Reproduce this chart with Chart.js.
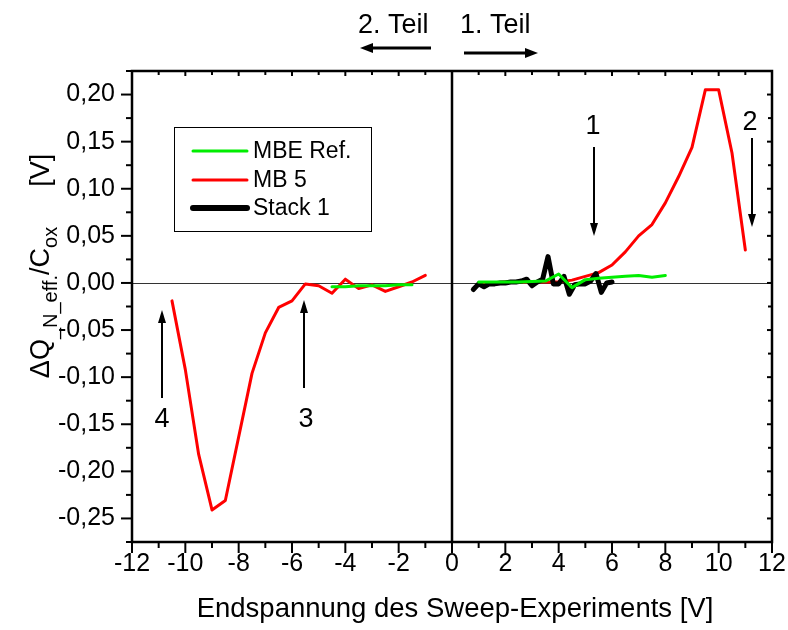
<!DOCTYPE html>
<html><head><meta charset="utf-8">
<script src="https://cdn.jsdelivr.net/npm/chart.js@4.4.1/dist/chart.umd.min.js"></script>
<style>html,body{margin:0;padding:0;background:#fff;}#wrap{width:788px;height:630px;}</style>
</head><body><div id="wrap"><canvas id="c" width="788" height="630"></canvas></div>
<script>
// ---- data ----
const xTicks = [-12,-10,-8,-6,-4,-2,0,2,4,6,8,10,12];
const yTicks = [-0.25,-0.20,-0.15,-0.10,-0.05,0.00,0.05,0.10,0.15,0.20];

const mb5LeftX = [-10.5,-10,-9.5,-9,-8.5,-7.5,-7,-6.5,-6,-5.5,-5,-4.5,-4,-3.5,-3,-2.5,-2,-1.5,-1];
const mb5LeftY = [-0.019,-0.092,-0.182,-0.241,-0.231,-0.096,-0.053,-0.026,-0.019,-0.001,-0.003,-0.011,0.004,-0.006,-0.002,-0.009,-0.004,0.001,0.008];
const mb5RightX = [1,1.5,2,2.5,3,3.5,4,4.5,5,5.5,6,6.5,7,7.5,8,8.5,9,9.5,10,10.5,11];
const mb5RightY = [0.000,0.000,0.001,0.001,0.001,0.001,0.001,0.003,0.007,0.011,0.019,0.033,0.050,0.062,0.085,0.113,0.144,0.205,0.205,0.138,0.035];

const mbeLeftX = [-4.5,-4,-3.5,-3,-2.5,-2,-1.5];
const mbeLeftY = [-0.004,-0.004,-0.003,-0.003,-0.003,-0.002,-0.002];
const mbeRightX = [1,1.5,2,2.5,3,3.5,4,4.5,5,5.5,6,6.5,7,7.5,8];
const mbeRightY = [0.001,0.001,0.001,0.001,0.0015,0.002,0.0095,-0.005,0.0035,0.005,0.006,0.007,0.008,0.006,0.008];

const stackX = [0.8,1.0,1.2,1.4,1.6,1.8,2.0,2.2,2.4,2.6,2.8,3.0,3.2,3.4,3.6,3.8,4.0,4.2,4.4,4.6,4.8,5.0,5.2,5.4,5.6,5.8,6.0];
const stackY = [-0.007,-0.001,-0.004,-0.001,-0.001,0.000,0.000,0.001,0.001,0.002,0.004,-0.003,0.001,0.004,0.028,-0.001,-0.001,0.007,-0.012,-0.002,-0.001,-0.001,0.002,0.010,-0.010,0.000,0.001];

const seriesNames = ['MBE Ref.','MB 5','Stack 1'];
const seriesColors = ['#00ee00','#ff0000','#000000'];

// ---- helpers ----
const FONT = "'Liberation Sans', Arial, sans-serif";
const pts = (xs, ys) => xs.map((x,i)=>({x:x, y:ys[i]}));
const fmtY = v => { const a = Math.abs(v) < 1e-9 ? 0 : v; return a.toFixed(2).replace('.', ','); };

function arrow(ctx, x1, y1, x2, y2, lw, hl, hw){
  const ang = Math.atan2(y2-y1, x2-x1);
  const bx = x2 - hl*Math.cos(ang), by = y2 - hl*Math.sin(ang);
  ctx.save();
  ctx.strokeStyle = '#000'; ctx.fillStyle = '#000'; ctx.lineWidth = lw; ctx.lineCap='butt';
  ctx.beginPath(); ctx.moveTo(x1,y1); ctx.lineTo(bx,by); ctx.stroke();
  ctx.beginPath();
  ctx.moveTo(x2,y2);
  ctx.lineTo(bx + hw/2*Math.sin(ang), by - hw/2*Math.cos(ang));
  ctx.lineTo(bx - hw/2*Math.sin(ang), by + hw/2*Math.cos(ang));
  ctx.closePath(); ctx.fill();
  ctx.restore();
}

const decor = {
  id: 'decor',
  beforeDatasetsDraw(chart){
    const {ctx, chartArea:a, scales:{x, y}} = chart;
    ctx.save();
    ctx.strokeStyle = '#333'; ctx.lineWidth = 1;
    const y0 = Math.round(y.getPixelForValue(0)) + 0.5;
    ctx.beginPath(); ctx.moveTo(a.left, y0); ctx.lineTo(a.right, y0); ctx.stroke();
    const x0 = x.getPixelForValue(0);
    ctx.strokeStyle = '#000'; ctx.lineWidth = 2.5;
    ctx.beginPath(); ctx.moveTo(x0, a.top); ctx.lineTo(x0, a.bottom); ctx.stroke();
    ctx.restore();
  },
  afterDraw(chart){
    const {ctx, chartArea:a, scales:{x, y}} = chart;
    ctx.save();
    ctx.strokeStyle = '#000';
    ctx.lineWidth = 2;
    for (let v = -12; v <= 12; v++) {
      const px = x.getPixelForValue(v);
      const major = v % 2 === 0;
      ctx.beginPath(); ctx.moveTo(px, a.bottom); ctx.lineTo(px, a.bottom + (major ? 11 : 6)); ctx.stroke();
      ctx.beginPath(); ctx.moveTo(px, a.top); ctx.lineTo(px, a.top + (major ? 5 : 4)); ctx.stroke();
    }
    for (let k = -11; k <= 9; k++) {
      const v = k * 0.025;
      const py = y.getPixelForValue(v);
      const major = k % 2 === 0;
      ctx.beginPath(); ctx.moveTo(a.left, py); ctx.lineTo(a.left - (major ? 11 : 6), py); ctx.stroke();
      ctx.beginPath(); ctx.moveTo(a.right, py); ctx.lineTo(a.right - (major ? 5 : 4), py); ctx.stroke();
    }
    ctx.lineWidth = 2.5;
    ctx.strokeRect(a.left, a.top, a.right - a.left, a.bottom - a.top);

    // legend
    ctx.lineWidth = 1;
    ctx.strokeRect(174.5, 127.5, 197, 104);
    const ly = [151, 180, 208];
    const lw = [3, 3, 6];
    ctx.font = '23px ' + FONT; ctx.fillStyle = '#000'; ctx.textBaseline = 'middle'; ctx.textAlign = 'left';
    for (let i = 0; i < 3; i++) {
      ctx.strokeStyle = seriesColors[i]; ctx.lineWidth = lw[i]; ctx.lineCap = 'round';
      ctx.beginPath(); ctx.moveTo(193, ly[i]); ctx.lineTo(247, ly[i]); ctx.stroke();
      ctx.fillText(seriesNames[i], 253, ly[i] + 1);
    }
    ctx.lineCap = 'butt';

    // annotations
    ctx.font = '27px ' + FONT; ctx.textBaseline = 'alphabetic';
    ctx.textAlign = 'left';
    ctx.fillText('2. Teil', 358, 33);
    ctx.fillText('1. Teil', 460, 33);
    arrow(ctx, 431, 48, 360, 48, 3, 13, 10);
    arrow(ctx, 464, 53, 538, 53, 3, 13, 10);

    ctx.textAlign = 'center';
    ctx.fillText('1', 593, 134);
    ctx.fillText('2', 750, 130);
    ctx.fillText('3', 306, 427);
    ctx.fillText('4', 162, 427);
    arrow(ctx, 594, 147, 594, 236, 2, 13, 8);
    arrow(ctx, 752, 138, 752, 227, 2, 13, 8);
    arrow(ctx, 304, 388, 304, 300, 2, 13, 8);
    arrow(ctx, 162, 398, 162, 310, 2, 13, 8);

    // x title
    ctx.font = '27.5px ' + FONT; ctx.textAlign = 'center'; ctx.textBaseline = 'alphabetic';
    ctx.fillText('Endspannung des Sweep-Experiments [V]', 455, 617);

    // y title with subscripts
    const parts = [
      {t:'\u0394Q', s:27, d:0},
      {t:'_N_eff.', s:20, d:8},
      {t:'/C', s:27, d:0},
      {t:'ox', s:20, d:8},
      {t:'', s:27, d:0, gap:40},
      {t:'[V]', s:27, d:0}
    ];
    let total = 0;
    parts.forEach(p => { ctx.font = p.s + 'px ' + FONT; p.w = ctx.measureText(p.t).width + (p.gap||0); total += p.w; });
    ctx.translate(49, 266);
    ctx.rotate(-Math.PI/2);
    ctx.textAlign = 'left';
    let cx = -total/2;
    parts.forEach(p => { ctx.font = p.s + 'px ' + FONT; ctx.fillText(p.t, cx, p.d); cx += p.w; });
    ctx.restore();
  }
};

new Chart(document.getElementById('c').getContext('2d'), {
  type: 'line',
  data: {
    datasets: [
      {label: seriesNames[0], data: pts(mbeLeftX, mbeLeftY), borderColor: seriesColors[0], borderWidth: 3, order: 0},
      {label: seriesNames[0], data: pts(mbeRightX, mbeRightY), borderColor: seriesColors[0], borderWidth: 3, order: 0},
      {label: seriesNames[2], data: pts(stackX, stackY), borderColor: seriesColors[2], borderWidth: 5, order: 1},
      {label: seriesNames[1], data: pts(mb5LeftX, mb5LeftY), borderColor: seriesColors[1], borderWidth: 3, order: 2},
      {label: seriesNames[1], data: pts(mb5RightX, mb5RightY), borderColor: seriesColors[1], borderWidth: 3, order: 2}
    ]
  },
  options: {
    responsive: false, animation: false, devicePixelRatio: 1,
    layout: {padding: {top: 71, right: 16, left: 0, bottom: 0}},
    plugins: {legend: {display: false}, tooltip: {enabled: false}},
    elements: {point: {radius: 0}, line: {tension: 0, fill: false, borderJoinStyle: 'round', borderCapStyle: 'round'}},
    scales: {
      x: {
        type: 'linear', min: -12, max: 12,
        afterBuildTicks: s => { s.ticks = xTicks.map(v => ({value: v})); },
        afterFit: s => { s.height = 88; s.paddingLeft = 0; s.paddingRight = 0; },
        grid: {display: false, drawTicks: false}, border: {display: false},
        ticks: {font: {family: FONT, size: 25}, color: '#000', padding: 7, maxRotation: 0, autoSkip: false, callback: v => String(v)}
      },
      y: {
        type: 'linear', min: -0.275, max: 0.225,
        afterBuildTicks: s => { s.ticks = yTicks.map(v => ({value: v})); },
        afterFit: s => { s.width = 132; s.paddingTop = 0; s.paddingBottom = 0; },
        grid: {display: false, drawTicks: false}, border: {display: false},
        ticks: {font: {family: FONT, size: 25}, color: '#000', padding: 17, autoSkip: false, callback: v => fmtY(v)}
      }
    }
  },
  plugins: [decor]
});
</script></body></html>
